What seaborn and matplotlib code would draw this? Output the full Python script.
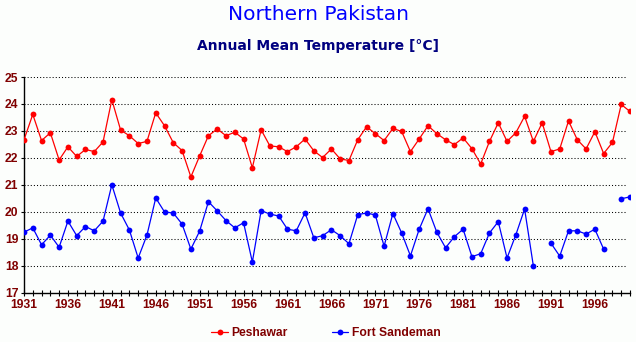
import numpy as np
import pandas as pd
import matplotlib
matplotlib.use("Agg")
import matplotlib.pyplot as plt
from matplotlib.lines import Line2D
from matplotlib import font_manager as fm
import seaborn as sns

years = list(range(1931, 2001))
peshawar = [22.67, 23.61, 22.64, 22.93, 21.92, 22.41, 22.05, 22.31, 22.23, 22.59,
            24.16, 23.03, 22.82, 22.53, 22.61, 23.67, 23.19, 22.56, 22.27, 21.29,
            22.07, 22.82, 23.07, 22.82, 22.95, 22.70, 21.63, 23.04, 22.44, 22.41,
            22.23, 22.41, 22.70, 22.26, 22.01, 22.33, 21.96, 21.90, 22.67, 23.15,
            22.90, 22.64, 23.09, 22.98, 22.23, 22.70, 23.19, 22.90, 22.67, 22.49,
            22.74, 22.34, 21.77, 22.61, 23.30, 22.61, 22.93, 23.54, 22.61, 23.30,
            22.23, 22.33, 23.37, 22.67, 22.33, 22.97, 22.16, 22.57, 23.98, 23.72]
fort_sandeman = [19.24, 19.40, 18.77, 19.13, 18.68, 19.65, 19.11, 19.45, 19.29, 19.65,
                 21.00, 19.95, 19.32, 18.28, 19.13, 20.51, 19.99, 19.95, 19.54, 18.61,
                 19.28, 20.37, 20.03, 19.67, 19.40, 19.59, 18.13, 20.04, 19.91, 19.84,
                 19.35, 19.29, 19.96, 19.03, 19.11, 19.33, 19.11, 18.81, 19.89, 19.95,
                 19.88, 18.72, 19.93, 19.21, 18.36, 19.35, 20.11, 19.24, 18.66, 19.07,
                 19.35, 18.33, 18.44, 19.21, 19.63, 18.28, 19.14, 20.10, 17.98, np.nan,
                 18.83, 18.35, 19.29, 19.29, 19.17, 19.35, 18.61, np.nan, 20.48, 20.55]
stations = ["Peshawar", "Fort Sandeman"]
colors = {"Peshawar": "#FF0000", "Fort Sandeman": "#0000FF"}
xtick_years = list(range(1931, 2000, 5))
yticks = list(range(17, 26))

# long format with segment ids so gaps stay unconnected
rows = []
for name, vals in zip(stations, [peshawar, fort_sandeman]):
    seg = 0
    for y, v in zip(years, vals):
        if v is None or (isinstance(v, float) and np.isnan(v)):
            seg += 1
            continue
        rows.append({"year": y, "temp": v, "station": name, "seg": f"{name}-{seg}"})
df = pd.DataFrame(rows)

sns.set_theme(style="white")
plt.rcParams["font.family"] = ["DejaVu Sans"]

fp = fm.FontProperties(family=["Liberation Sans", "DejaVu Sans"], weight="bold", size=8.7)

fig = plt.figure(figsize=(6.36, 3.42), dpi=100)
fig.patch.set_facecolor("#FCFEFC")
ax = fig.add_axes([24 / 636, 1 - 292.5 / 342, 606 / 636, (292.5 - 77) / 342])
ax.set_facecolor("#FCFEFC")

for yv in yticks[1:]:
    ax.axhline(yv, color="black", lw=0.75, ls=(0, (1, 2)), zorder=1, xmax=0.995)

sns.lineplot(data=df, x="year", y="temp", hue="station", units="seg",
             estimator=None, palette=colors, marker="o", markersize=4.2,
             markeredgewidth=0, linewidth=0.9, legend=False, ax=ax, zorder=3)

ax.set_xlim(1931, 2000)
ax.set_ylim(17, 25)
ax.set_xticks(xtick_years)
ax.set_xticks(years, minor=True)
ax.set_xticklabels([str(y) for y in xtick_years])
ax.set_yticks(yticks)
ax.set_yticklabels([str(v) for v in yticks])
ax.set_xlabel("")
ax.set_ylabel("")

for s in ["top", "right"]:
    ax.spines[s].set_visible(False)
for s in ["left", "bottom"]:
    ax.spines[s].set_color("black")
    ax.spines[s].set_linewidth(1.0)

lab_color = "#800000"
ax.tick_params(axis="x", which="both", direction="inout", length=4, width=0.8,
               color="black", bottom=True)
ax.tick_params(axis="x", which="major", labelcolor=lab_color, pad=2.5)
ax.tick_params(axis="y", which="major", direction="out", length=2.5, width=0.8,
               color="black", left=True, labelcolor=lab_color, pad=1.5)
for lbl in ax.get_xticklabels() + ax.get_yticklabels():
    lbl.set_fontproperties(fp)

fig.text(318 / 636, 1 - 14 / 342, "Northern Pakistan", ha="center", va="center",
         color="#0000FF", fontsize=14.5)
fig.text(318 / 636, 1 - 46 / 342, "Annual Mean Temperature [°C]", ha="center",
         va="center", color="#000080", fontsize=10, fontweight="bold")

handles = [Line2D([0], [0], color=colors[s], marker="o", markersize=4.2,
                  markeredgewidth=0, lw=0.9) for s in stations]
leg = fig.legend(handles, stations, loc="center", bbox_to_anchor=(326 / 636, 1 - 333 / 342),
                 ncol=2, frameon=False, handlelength=1.4, handletextpad=0.3,
                 columnspacing=3.6, prop=fp)
for t in leg.get_texts():
    t.set_color(lab_color)

fig.savefig("out.png", dpi=100, facecolor=fig.get_facecolor())
